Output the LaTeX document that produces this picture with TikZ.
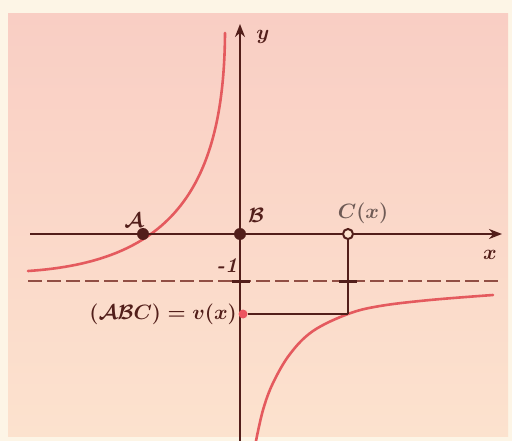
\documentclass[tikz,border=0pt]{standalone}
\usetikzlibrary{arrows.meta}
\definecolor{ink}{RGB}{82,30,26}
\definecolor{curvecol}{RGB}{228,90,94}
\definecolor{paper}{RGB}{252,226,206}
\definecolor{paperpink}{RGB}{249,206,196}
\definecolor{rim}{RGB}{253,245,230}
\definecolor{dashcol}{RGB}{145,78,68}
\definecolor{dotcol}{RGB}{236,84,96}
\definecolor{graytxt}{RGB}{110,90,85}
\begin{document}
\begin{tikzpicture}[x=1pt,y=-1pt,
  axis/.style={draw=ink,line width=2.8pt},
  thinline/.style={draw=ink,line width=1.3pt},
  branch/.style={draw=curvecol,line width=2.6pt,line cap=round},
  asym/.style={draw=dashcol,line width=2.6pt,dash pattern=on 14pt off 5pt},
  fulldot/.style={circle,fill=ink,inner sep=0pt,minimum size=12pt},
  opendot/.style={circle,draw=ink,line width=2pt,fill=paper,inner sep=0pt,minimum size=10pt},
  reddot/.style={circle,fill=dotcol,inner sep=0pt,minimum size=9pt},
  lbl/.style={text=ink,font=\fontsize{21}{24}\selectfont\boldmath,inner sep=1pt}]
\useasboundingbox (0,0) rectangle (512,441);
\fill[rim] (0,0) rectangle (512,441);
\shade[top color=paperpink,bottom color=paper] (8,14) rectangle (508,436);

% asymptote y = -1
\coordinate (dl) at (28,281);
\coordinate (dr) at (500,281);
\draw[asym] (dl) -- (dr);

% hyperbola branches
\draw[branch] (28,271) .. controls (165,262) and (224,195) .. (225,33);
\draw[branch] plot[smooth,tension=0.6] coordinates {(256,441) (263,410) (273,383) (290,354) (313,331) (348,314) (380,306) (430,300) (493,295)};

% axes
\coordinate (xl) at (30,234);
\coordinate (xr) at (502,234);
\coordinate (yb) at (240,441);
\coordinate (yt) at (240,24);
\draw[axis,-{Stealth[length=13pt,width=10pt]}] (xl) -- (xr);
\draw[thinline,line width=2pt] (yb) -- (240,281);
\draw[axis,-{Stealth[length=13pt,width=10pt]}] (240,281) -- (yt);

% points
\node[fulldot] (A) at (143,234) {};
\node[fulldot] (B) at (240,234) {};
\coordinate (Cv) at (348,314);
\draw[thinline] (348,234) -- (Cv);
\node[opendot] (C) at (348,234) {};
\node[reddot] (V) at (243,314) {};
\draw[thinline] (V) -- (Cv);

% ticks on the asymptote
\draw[ink,line width=3pt] (232,281) -- (250,281);
\draw[ink,line width=3pt] (339,281) -- (357,281);

% labels
\node[lbl] (lA) at (134,220) {$\mathcal{A}$};
\node[lbl] (lB) at (256,215) {$\mathcal{B}$};
\node[lbl,text=graytxt] (lC) at (363,213) {$C(x)$};
\node[lbl] (lx) at (490,255) {$x$};
\node[lbl] (ly) at (263,37) {$y$};
\node[lbl] (lm1) at (227,266) {\textbf{\textit{-1}}};
\node[lbl,anchor=east] (lv) at (238,314) {$(\mathcal{A}\mathcal{B}C)=v(x)$};
\end{tikzpicture}
\end{document}
